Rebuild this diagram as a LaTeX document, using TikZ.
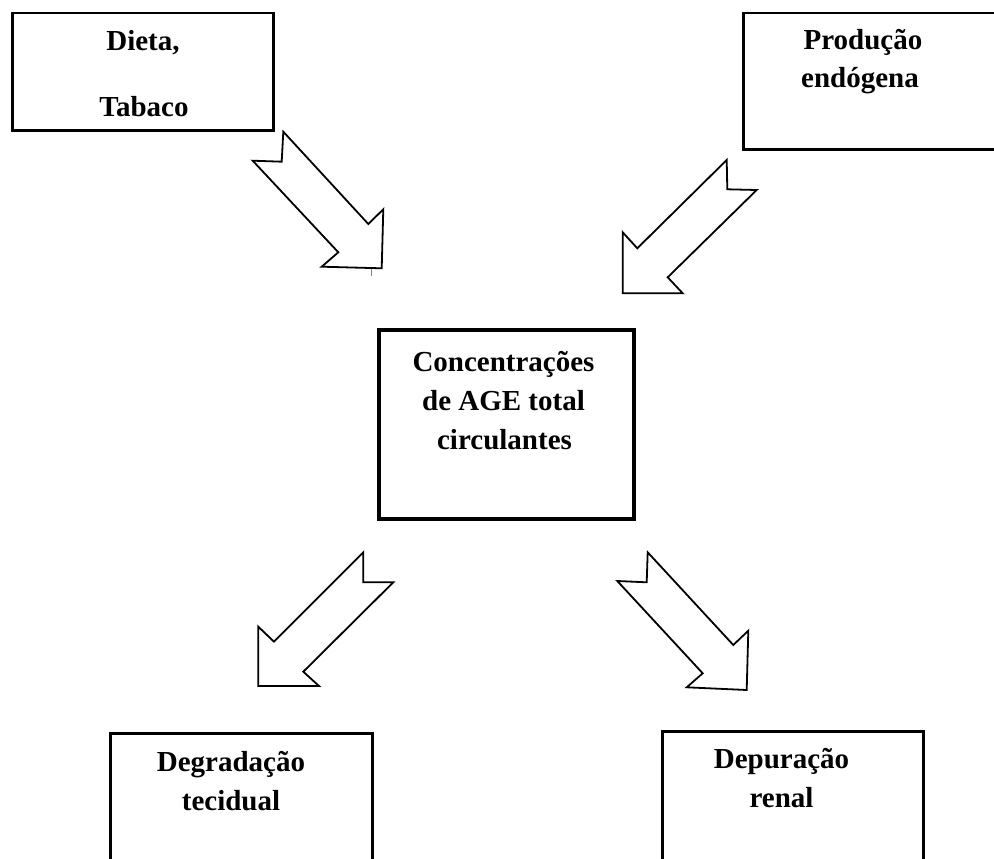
\documentclass[tikz,border=0pt]{standalone}
\usepackage{fontspec}
\setmainfont{Liberation Serif}
\begin{document}
\begin{tikzpicture}[x=1pt,y=-1pt,
  box/.style={draw=black, line width=2.5pt, inner sep=0pt, anchor=north west},
  mainbox/.style={box, line width=4pt},
  lbl/.style={font=\fontsize{29}{35}\selectfont\bfseries, anchor=base, inner sep=0pt},
  blockarrow/.style={draw=black, line width=1.8pt, line join=miter, fill=white}]
\useasboundingbox (0,0) rectangle (994,859);
\clip (0,0) rectangle (994,859);
\fill[white] (0,0) rectangle (994,859);

% boxes
\node[box, minimum width=261pt, minimum height=117pt] (dieta) at (11,12) {};
\node[box, minimum width=262pt, minimum height=136pt] (producao) at (742,12) {};
\node[mainbox, minimum width=255pt, minimum height=189pt] (conc) at (377,328) {};
\node[box, minimum width=262pt, minimum height=148pt] (degr) at (109,732) {};
\node[box, minimum width=261pt, minimum height=150pt] (depur) at (661,730) {};

% labels
\node[lbl] (t1a) at (143,51) {Dieta,};
\node[lbl] (t1b) at (144,117) {Tabaco};
\node[lbl] (t2a) at (863,50) {Produção};
\node[lbl] (t2b) at (860,88) {endógena};
\node[lbl] (t3a) at (503.5,371) {Concentrações};
\node[lbl] (t3b) at (503.5,410) {de AGE total};
\node[lbl] (t3c) at (504.5,449) {circulantes};
\node[lbl] (t4a) at (231,771) {Degradação};
\node[lbl] (t4b) at (231,810.5) {tecidual};
\node[lbl] (t5a) at (781.5,768.5) {Depuração};
\node[lbl] (t5b) at (781.5,807.5) {renal};

% block arrows
\draw[blockarrow] (283.3,131.7) -- (368.3,224) -- (383.3,209.3) -- (381.7,268.3)
  -- (321.7,266.7) -- (338.3,252.3) -- (252.7,160.7) -- (281.7,161.7) -- cycle;
\draw[blockarrow] (726.7,160) -- (727.3,189.3) -- (756.7,190) -- (667.7,277.3)
  -- (682.7,293.3) -- (622.7,293.3) -- (622.7,232.3) -- (637.3,248.3) -- cycle;
\draw[blockarrow] (363.3,552.3) -- (363.3,582.3) -- (393.3,582.3) -- (303.3,671.7)
  -- (319,686) -- (258.3,686) -- (258.3,626.7) -- (274,641.7) -- cycle;
\draw[blockarrow] (647.7,552.3) -- (646.7,582.3) -- (617.3,581) -- (702.7,673.3)
  -- (686.7,687.3) -- (746.7,690) -- (748.3,630.7) -- (733.3,645) -- cycle;

% small tick under the first arrow
\draw[gray, line width=1pt] (371,268.5) -- (371,276);
\end{tikzpicture}
\end{document}
